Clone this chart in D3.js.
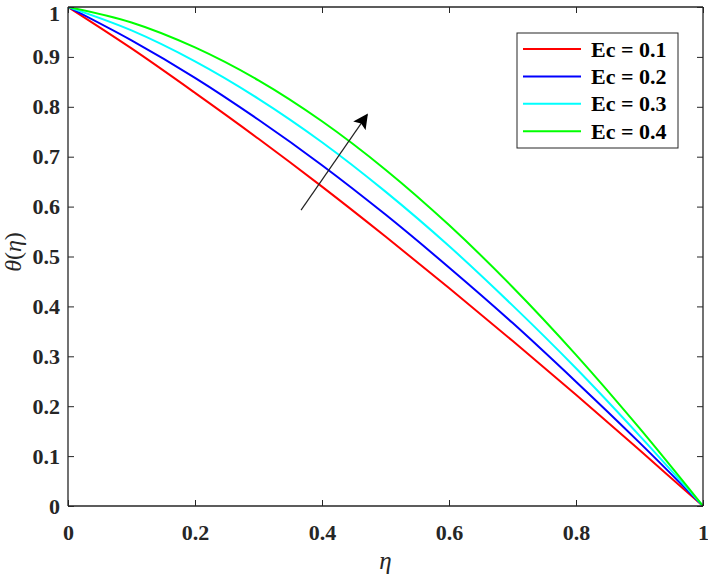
<!DOCTYPE html>
<html><head><meta charset="utf-8">
<script src="https://cdn.jsdelivr.net/npm/d3@7"></script>
<style>body{margin:0;background:#fff}</style>
</head><body>
<svg id="c" width="708" height="575"></svg>
<script>
const eta = [0,0.1,0.2,0.3,0.4,0.5,0.6,0.7,0.8,0.9,1];
const ec01 = [1,0.917,0.828,0.736,0.640,0.540,0.437,0.331,0.223,0.112,0];
const ec02 = [1,0.933,0.858,0.774,0.683,0.584,0.478,0.367,0.249,0.127,0];
const ec03 = [1,0.953,0.891,0.816,0.729,0.630,0.521,0.402,0.276,0.141,0];
const ec04 = [1,0.969,0.919,0.853,0.771,0.674,0.563,0.439,0.303,0.156,0];
const seriesNames = ["Ec = 0.1","Ec = 0.2","Ec = 0.3","Ec = 0.4"];
const seriesColors = ["#ff0000","#0000ff","#00ffff","#00ff00"];
const xTicks = [0,0.2,0.4,0.6,0.8,1];
const yTicks = [0,0.1,0.2,0.3,0.4,0.5,0.6,0.7,0.8,0.9,1];
const arrowFrom = [0.367,0.593], arrowTo = [0.471,0.784];

const series = [ec01,ec02,ec03,ec04];
const svg = d3.select("#c");
const L=68,R=703,T=7,B=506;
const x = d3.scaleLinear().domain([0,1]).range([L,R]);
const y = d3.scaleLinear().domain([0,1]).range([B,T]);
const font = "'Liberation Serif','Times New Roman',serif";

const defs = svg.append("defs");
defs.append("clipPath").attr("id","clip").append("rect").attr("x",L).attr("y",T).attr("width",R-L).attr("height",B-T);

const line = d3.line().x((d,i)=>x(eta[i])).y(d=>y(d)).curve(d3.curveCatmullRom.alpha(0.5));
series.forEach((s,k)=>{
  svg.append("path").attr("d",line(s)).attr("fill","none").attr("stroke",seriesColors[k]).attr("stroke-width",2).attr("clip-path","url(#clip)");
});

// axes box
const tl=6;
const gx = svg.append("g").attr("transform",`translate(0,${B})`)
  .call(d3.axisBottom(x).tickValues(xTicks).tickSize(-tl).tickPadding(18).tickFormat(d=>d3.format("")(d)));
const gxt = svg.append("g").attr("transform",`translate(0,${T})`)
  .call(d3.axisTop(x).tickValues(xTicks).tickSize(-tl).tickFormat(""));
const gy = svg.append("g").attr("transform",`translate(${L},0)`)
  .call(d3.axisLeft(y).tickValues(yTicks).tickSize(-tl).tickPadding(8).tickFormat(d=>d3.format("")(d)));
const gyr = svg.append("g").attr("transform",`translate(${R},0)`)
  .call(d3.axisRight(y).tickValues(yTicks).tickSize(-tl).tickFormat(""));
[gx,gxt,gy,gyr].forEach(g=>{
  g.selectAll(".domain").attr("stroke","#262626").attr("stroke-width",1.3);
  g.selectAll(".tick line").attr("stroke","#262626").attr("stroke-width",1);
  g.selectAll("text").attr("font-family",font).attr("font-weight","bold").attr("font-size",22).attr("fill","#262626");
});
gy.selectAll(".tick").filter(d=>d===1).select("text").attr("dy","0.62em");
gx.selectAll(".domain").attr("d",`M${L},0H${R}`);
gxt.selectAll(".domain").attr("d",`M${L},0H${R}`);
gy.selectAll(".domain").attr("d",`M0,${B}V${T}`);
gyr.selectAll(".domain").attr("d",`M0,${B}V${T}`);

// axis labels
svg.append("text").attr("x",(L+R)/2).attr("y",569).attr("text-anchor","middle")
  .attr("font-family",font).attr("font-style","italic").attr("font-size",25).attr("fill","#262626").text("η");
svg.append("text").attr("transform",`translate(21,252) rotate(-90)`).attr("text-anchor","middle")
  .attr("font-family",font).attr("font-size",24).attr("fill","#262626")
  .html('<tspan font-style="italic">θ</tspan>(<tspan font-style="italic">η</tspan>)');

// arrow
defs.append("marker").attr("id","ah").attr("viewBox","0 0 10 10").attr("refX",9).attr("refY",5)
  .attr("markerWidth",15).attr("markerHeight",15).attr("markerUnits","userSpaceOnUse").attr("orient","auto")
  .append("path").attr("d","M0,0L10,5L0,10L2,5Z").attr("fill","#000");
svg.append("line").attr("x1",x(arrowFrom[0])).attr("y1",y(arrowFrom[1])).attr("x2",x(arrowTo[0])).attr("y2",y(arrowTo[1]))
  .attr("stroke","#222").attr("stroke-width",1.2).attr("marker-end","url(#ah)");

// legend
const lg = svg.append("g");
lg.append("rect").attr("x",517).attr("y",33).attr("width",161).attr("height",115).attr("fill","#fff").attr("stroke","#262626").attr("stroke-width",1);
seriesNames.forEach((n,k)=>{
  const yy = 49 + k*27.4;
  lg.append("line").attr("x1",523).attr("x2",581).attr("y1",yy).attr("y2",yy).attr("stroke",seriesColors[k]).attr("stroke-width",2);
  lg.append("text").attr("x",591).attr("y",yy+7.5).attr("font-family",font).attr("font-weight","bold").attr("font-size",22).attr("fill","#000").text(n);
});
</script>
</body></html>
